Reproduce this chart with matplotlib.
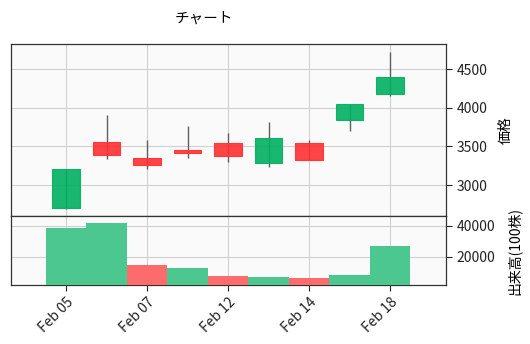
import matplotlib
matplotlib.use('Agg')
import matplotlib.pyplot as plt
import numpy as np

plt.rcParams['font.family'] = ['Noto Sans CJK JP', 'DejaVu Sans']

# daily prices
dates = ['Feb 05', 'Feb 06', 'Feb 07', 'Feb 08', 'Feb 12', 'Feb 13', 'Feb 14', 'Feb 15', 'Feb 18']
opens = [2700, 3560, 3355, 3455, 3550, 3290, 3550, 3845, 4180]
highs = [3210, 3910, 3585, 3765, 3670, 3815, 3580, 4050, 4725]
lows = [2695, 3335, 3205, 3345, 3300, 3235, 3330, 3705, 4150]
closes = [3210, 3385, 3255, 3410, 3370, 3610, 3330, 4050, 4400]
volumes = [38500, 41800, 14600, 12700, 7500, 6700, 6000, 8200, 26900]

up_col = '#00b060'
down_col = '#fe3032'
vol_up = '#4dc790'
vol_down = '#fd6b6c'
grid_col = '#d0d0d0'

x = np.arange(len(dates))
is_up = [c >= o for o, c in zip(opens, closes)]
# volume colour follows close vs previous close
vol_is_up = [True] + [closes[i] >= closes[i - 1] for i in range(1, len(closes))]

fig = plt.figure(figsize=(5.3, 3.44), dpi=100)
ax = fig.add_axes([0.0208, 0.372, 0.8207, 0.500])
axv = fig.add_axes([0.0208, 0.1715, 0.8207, 0.2005], sharex=ax)

for a in (ax, axv):
    a.set_facecolor('#fafafa')
    a.grid(True, color=grid_col, linewidth=0.8)
    a.set_axisbelow(True)
    a.yaxis.tick_right()
    a.yaxis.set_label_position('right')
    for s in a.spines.values():
        s.set_color('#333333')
        s.set_linewidth(0.9)
    a.tick_params(labelsize=10, colors='#222222', length=4.5, pad=3)

# candles
body_w = 0.68
for i in range(len(dates)):
    col = up_col if is_up[i] else down_col
    ax.vlines(x[i], lows[i], highs[i], color='#606060', linewidth=1, zorder=2)
    lo = min(opens[i], closes[i])
    h = abs(closes[i] - opens[i])
    ax.bar(x[i], h, bottom=lo, width=body_w, color=col, alpha=0.9,
           edgecolor=col, linewidth=0.8, zorder=3)

ax.set_ylim(2600, 4823)
ax.set_yticks([3000, 3500, 4000, 4500])
ax.set_ylabel('価格', fontsize=10)
ax.yaxis.set_label_coords(1.122, 0.5)
ax.tick_params(axis='x', labelbottom=False, length=0)

vcols = [vol_up if u else vol_down for u in vol_is_up]
axv.bar(x, volumes, width=1.0, color=vcols, zorder=3)
axv.set_ylim(1740, 46260)
axv.set_yticks([20000, 40000])
axv.set_ylabel('出来高(100株)', fontsize=10)
axv.yaxis.set_label_coords(1.140, 0.5)

axv.set_xlim(-1.36, 9.38)
axv.set_xticks(x[::2])
axv.set_xticklabels(dates[::2], rotation=45, ha='right', rotation_mode='anchor')

fig.text(0.384, 0.947, 'チャート', ha='center', va='center', fontsize=10.5)

fig.savefig('out.png', dpi=100)
